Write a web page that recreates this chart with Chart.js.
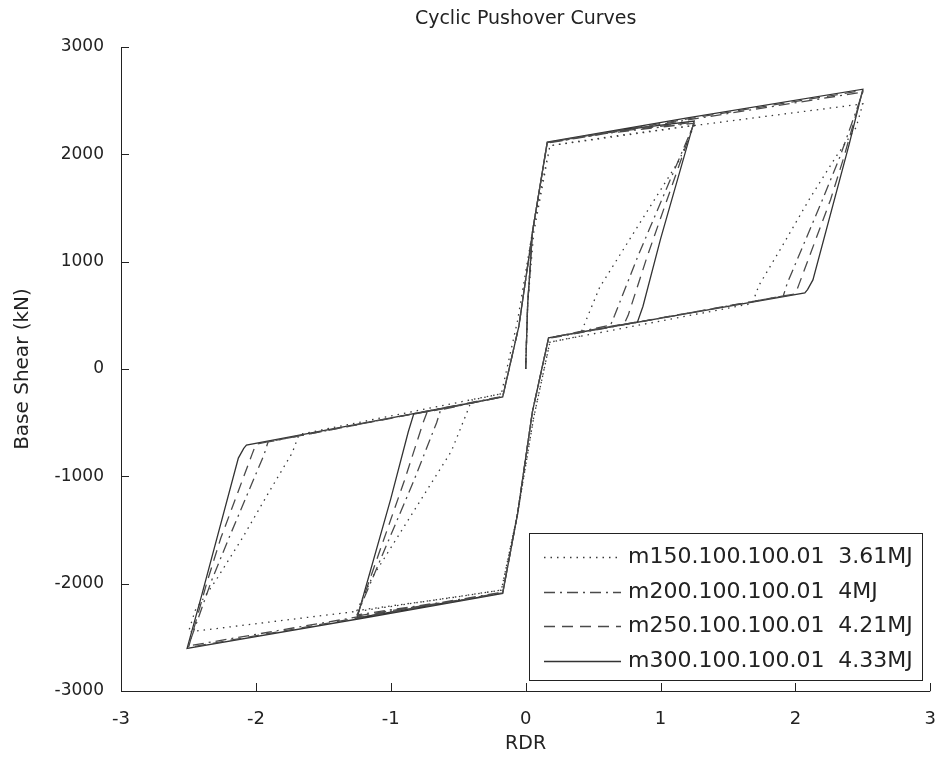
<!DOCTYPE html>
<html><head><meta charset="utf-8">
<script src="https://cdn.jsdelivr.net/npm/chart.js@4/dist/chart.umd.min.js"></script>
<style>html,body{margin:0;padding:0;background:#fff;}#wrap{width:946px;height:761px;}</style>
</head><body><div id="wrap"><canvas id="c" width="946" height="761"></canvas></div>
<script>
// ---- data ----
const seriesNames = ['m150.100.100.01  3.61MJ', 'm200.100.100.01  4MJ', 'm250.100.100.01  4.21MJ', 'm300.100.100.01  4.33MJ'];
const xTicks = [-3, -2, -1, 0, 1, 2, 3];
const yTicks = [-3000, -2000, -1000, 0, 1000, 2000, 3000];

const rdr150 = [0, 0.015, 0.06, 0.18, 0.6, 1.25, 1.14, 0.55, 0.44, 0.40, 0.18, 0.06, -0.06, -0.18, -0.6, -1.25, -1.14, -0.55, -0.44, -0.40, -0.18, -0.06, 0.06, 0.18, 1.2, 2.5, 2.45, 2.3, 2.1, 1.9, 1.73, 1.68, 0.18, 0.06, -0.06, -0.18, -1.2, -2.5, -2.45, -2.3, -2.1, -1.9, -1.73, -1.68, -0.18];
const shear150 = [0, 600, 1270, 2080, 2160, 2270, 1948, 764, 430, 305, 250, -450, -1350, -2060, -2140, -2250, -1948, -764, -420, -290, -230, 450, 1350, 2080, 2260, 2470, 2250, 1976, 1575, 1140, 780, 610, 250, -450, -1350, -2060, -2250, -2450, -2250, -1976, -1575, -1140, -780, -610, -230];

const rdr200 = [0, 0.015, 0.05, 0.16, 0.6, 1.25, 0.83, 0.66, 0.63, 0.17, 0.05, -0.06, -0.17, -0.6, -1.25, -0.83, -0.66, -0.63, -0.17, -0.05, 0.06, 0.16, 1.2, 2.5, 2.33, 2.2, 1.94, 1.91, 0.17, 0.05, -0.06, -0.17, -1.2, -2.5, -2.33, -2.2, -1.94, -1.91, -0.17];
const shear200 = [0, 600, 1270, 2105, 2195, 2290, 1044, 500, 410, 285, -400, -1350, -2080, -2170, -2290, -1044, -500, -380, -255, 400, 1350, 2105, 2320, 2580, 1976, 1575, 800, 680, 285, -400, -1350, -2080, -2300, -2580, -1976, -1575, -800, -680, -255];

const rdr250 = [0, 0.015, 0.05, 0.16, 0.6, 1.25, 0.9, 0.76, 0.73, 0.17, 0.05, -0.06, -0.17, -0.6, -1.25, -0.9, -0.76, -0.73, -0.17, -0.05, 0.06, 0.16, 1.2, 2.5, 2.36, 2.26, 2.03, 2.0, 0.17, 0.05, -0.06, -0.17, -1.2, -2.5, -2.36, -2.26, -2.03, -2.0, -0.17];
const shear250 = [0, 600, 1270, 2110, 2200, 2300, 1044, 500, 420, 290, -400, -1350, -2085, -2175, -2300, -1044, -500, -400, -260, 400, 1350, 2110, 2330, 2595, 1976, 1575, 800, 700, 290, -400, -1350, -2085, -2310, -2595, -1976, -1575, -800, -700, -260];

const rdr300 = [0, 0.015, 0.05, 0.16, 0.6, 1.25, 1.0, 0.87, 0.83, 0.17, 0.05, -0.06, -0.17, -0.6, -1.25, -1.0, -0.87, -0.83, -0.17, -0.05, 0.06, 0.16, 1.2, 2.5, 2.4, 2.13, 2.09, 2.07, 0.17, 0.05, -0.06, -0.17, -1.2, -2.51, -2.4, -2.13, -2.09, -2.07, -0.17];
const shear300 = [0, 600, 1270, 2115, 2210, 2310, 1210, 585, 440, 290, -400, -1350, -2090, -2180, -2320, -1210, -585, -420, -260, 400, 1350, 2115, 2340, 2607, 2100, 830, 740, 710, 290, -400, -1350, -2090, -2320, -2603, -2100, -830, -740, -710, -260];

// ---- build ----
const pts = (xs, ys) => xs.map((v, i) => ({x: v, y: ys[i]}));
const styles = [
  {color: '#3a3a3a', dash: [1.5, 5]},
  {color: '#4a4a4a', dash: [11, 5, 2, 5]},
  {color: '#4a4a4a', dash: [11, 7]},
  {color: '#333333', dash: []}
];
const seriesData = [pts(rdr150, shear150), pts(rdr200, shear200), pts(rdr250, shear250), pts(rdr300, shear300)];
const datasets = seriesData.map((d, i) => ({
  label: seriesNames[i], data: d, showLine: true, fill: false, tension: 0,
  borderColor: styles[i].color, borderDash: styles[i].dash, borderWidth: 1.3,
  pointRadius: 0, pointHoverRadius: 0
}));

const decor = {
  id: 'decor',
  afterDraw(chart) {
    const {ctx, chartArea: a, scales: {x, y}} = chart;
    ctx.save();
    ctx.strokeStyle = '#222'; ctx.lineWidth = 1; ctx.setLineDash([]);
    ctx.beginPath();
    ctx.moveTo(a.left + 0.5, a.top); ctx.lineTo(a.left + 0.5, a.bottom + 0.5);
    ctx.lineTo(a.right, a.bottom + 0.5);
    xTicks.forEach(v => { const p = Math.round(x.getPixelForValue(v)) + 0.5; ctx.moveTo(p, a.bottom); ctx.lineTo(p, a.bottom - 8); });
    yTicks.forEach(v => { const p = Math.round(y.getPixelForValue(v)) + 0.5; ctx.moveTo(a.left, p); ctx.lineTo(a.left + 8, p); });
    ctx.stroke();
    // legend
    const W = 393, H = 147;
    const L = Math.round(a.right - 401), T = Math.round(a.bottom - 158);
    ctx.fillStyle = '#fff'; ctx.fillRect(L, T, W, H);
    ctx.strokeStyle = '#222'; ctx.strokeRect(L + 0.5, T + 0.5, W, H);
    ctx.font = '22px "DejaVu Sans"'; ctx.textBaseline = 'middle'; ctx.textAlign = 'left';
    chart.data.datasets.forEach((ds, i) => {
      const cy = Math.round(T + 24 + i * 34.7) + 0.5;
      ctx.strokeStyle = ds.borderColor; ctx.lineWidth = ds.borderWidth;
      ctx.setLineDash(ds.borderDash);
      ctx.beginPath(); ctx.moveTo(L + 15, cy); ctx.lineTo(L + 92, cy); ctx.stroke();
      ctx.setLineDash([]);
      ctx.fillStyle = '#222';
      ctx.fillText(ds.label, L + 99, cy);
    });
    ctx.restore();
  }
};

Chart.defaults.font.family = '"DejaVu Sans", sans-serif';
Chart.defaults.color = '#222';

new Chart(document.getElementById('c'), {
  type: 'scatter',
  data: {datasets},
  options: {
    responsive: false, animation: false, devicePixelRatio: 1,
    layout: {padding: {left: 0, right: 10, top: 0, bottom: 0}},
    plugins: {
      legend: {display: false}, tooltip: {enabled: false},
      title: {display: true, fullSize: false, text: 'Cyclic Pushover Curves', font: {size: 19, weight: 'normal'}, color: '#222',
        padding: {top: 8, bottom: 16.2}}
    },
    scales: {
      x: {
        type: 'linear', min: -3, max: 3,
        ticks: {stepSize: 1, font: {size: 18}, padding: 10, color: '#222', maxRotation: 0, callback: v => String(v)},
        grid: {display: false}, border: {display: false},
        title: {display: true, text: 'RDR', font: {size: 19}, color: '#222', padding: {top: 0, bottom: 6}},
        afterFit: s => { s.height = 70; }
      },
      y: {
        type: 'linear', min: -3000, max: 3000,
        ticks: {stepSize: 1000, font: {size: 17}, padding: 9, color: '#222', callback: v => String(v)},
        grid: {display: false}, border: {display: false},
        title: {display: true, text: 'Base Shear (kN)', font: {size: 20}, color: '#222', padding: {top: 11, bottom: 0}},
        afterFit: s => { s.width = 121; }
      }
    }
  },
  plugins: [decor]
});
</script></body></html>
